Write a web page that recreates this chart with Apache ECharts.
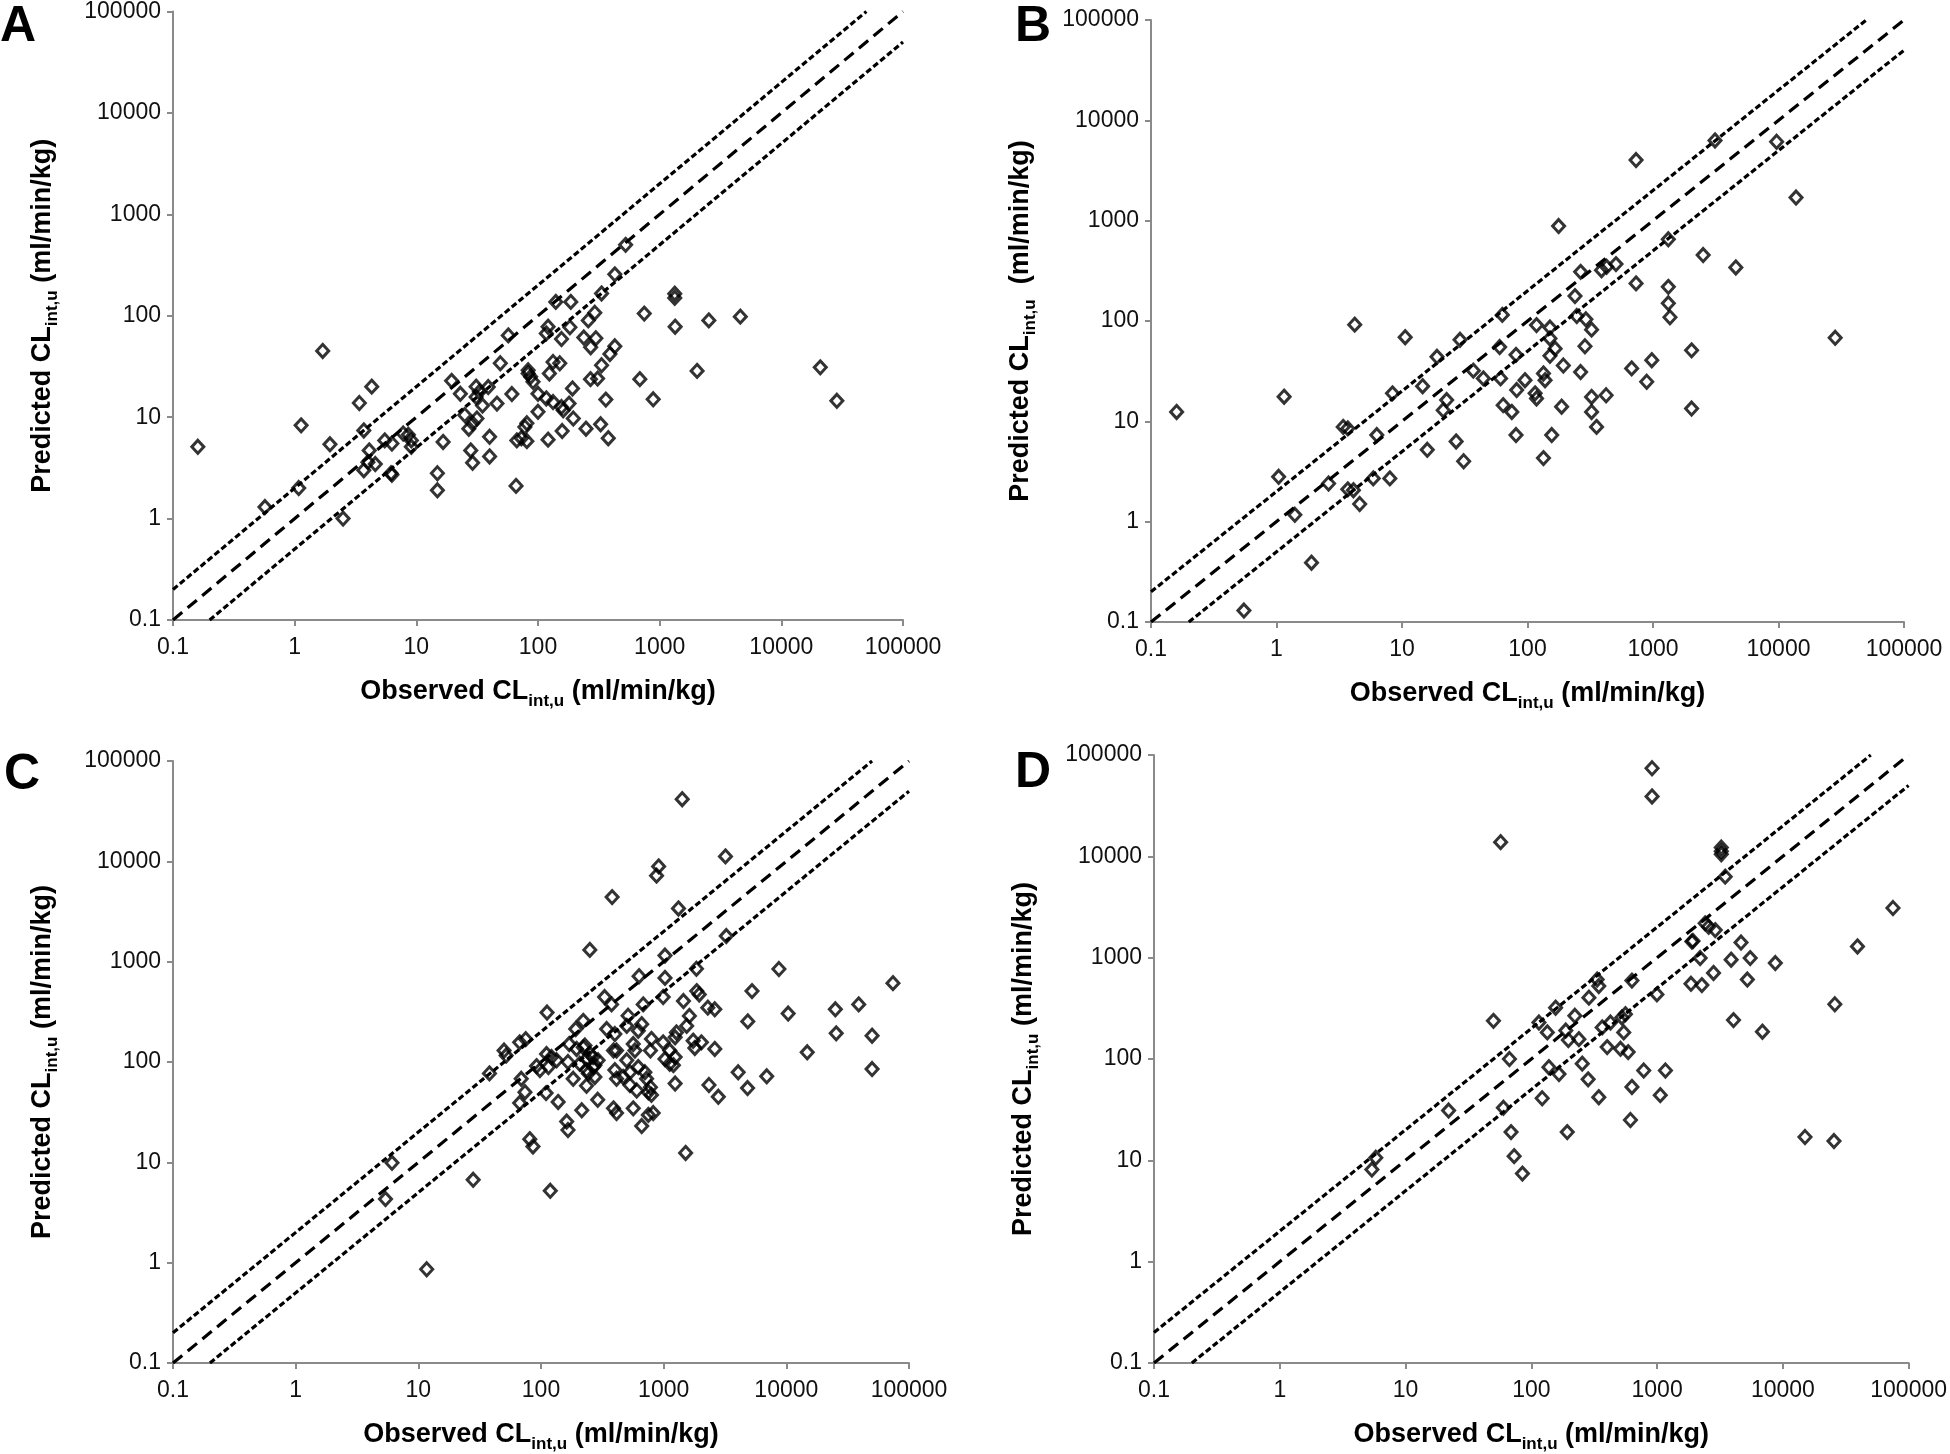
<!DOCTYPE html>
<html>
<head>
<meta charset="utf-8">
<script src="https://cdn.jsdelivr.net/npm/echarts@6/dist/echarts.min.js"></script>
<style>
  html, body { margin: 0; padding: 0; background: #fff; }
  #chart { width: 1950px; height: 1454px; }
</style>
</head>
<body>
<div id="chart"></div>
<script>
// tick labels shared by both log axes
const tickLabels = ['0.1', '1', '10', '100', '1000', '10000', '100000']
const panelNames = ['A', 'B', 'C', 'D']

// observed vs predicted CLint,u, [observed, predicted]
const panelA = [
  [0.16, 5.1], [0.57, 1.3], [1.08, 2.0], [1.13, 8.3], [1.7, 45], [1.95, 5.4], [2.5, 1.0], [3.4, 13.8],
  [3.7, 7.4], [4.3, 20], [3.7, 3.0], [4.0, 3.6], [4.1, 4.7], [4.6, 3.45], [5.5, 5.9], [6.3, 5.5],
  [6.2, 2.8], [6.3, 2.7], [7.8, 6.9], [8.6, 6.7], [9.1, 5.9], [9.1, 5.1], [14.9, 2.8], [14.9, 1.9],
  [16.6, 5.7], [19.5, 22.8], [23, 17], [25, 10.5], [27, 7.7], [28, 4.7], [29, 3.55], [31.5, 9.7],
  [29, 8.7], [31, 20], [31, 15.8], [33, 17.8], [35, 13], [39, 19.8], [40, 6.4], [40, 4.1],
  [46, 13.6], [49, 34], [61, 16.9], [57, 64], [66, 2.1], [67, 5.9], [73, 6.2], [78, 8.0],
  [81, 8.7], [81, 5.8], [83, 29], [87, 25], [91, 22.3], [83, 27], [100, 17], [100, 11.3],
  [121, 78], [117, 67], [121, 6.0], [124, 27], [117, 15.3], [140, 137], [133, 35], [151, 34],
  [156, 59], [133, 14.1], [156, 12.6], [158, 7.3], [161, 11.7], [180, 13.6], [186, 137], [183, 77],
  [192, 19.2], [195, 9.7], [238, 61], [248, 7.7], [259, 90], [270, 23.7], [271, 49], [293, 107],
  [299, 60], [309, 24], [327, 8.5], [333, 166], [333, 32.5], [361, 14.9], [378, 6.2], [390, 42],
  [428, 50], [428, 256], [525, 500], [687, 23.7], [747, 105], [885, 15], [1330, 165], [1330, 150],
  [1340, 78], [2030, 28.6], [2535, 90], [4600, 98], [20900, 31], [28600, 14.5]
]

const panelB = [
  [0.16, 12.4], [0.55, 0.13], [1.04, 2.8], [1.15, 17.6], [1.4, 1.17], [1.9, 0.39], [2.6, 2.4], [3.4, 8.8],
  [3.7, 8.5], [3.7, 2.1], [4.1, 2.06], [4.2, 92], [4.6, 1.5], [5.9, 2.7], [6.3, 7.3], [8.0, 2.7],
  [8.4, 19], [10.6, 69], [14.6, 22.4], [15.9, 5.2], [19, 44], [21.3, 12.9], [22.7, 16.3], [27, 6.3],
  [29, 65], [31, 4.0], [37, 32], [44.5, 26.8], [60, 55], [61, 26.8], [63, 115], [64, 14.5],
  [75, 12.4], [81, 46], [82, 20.5], [81, 7.3], [95.5, 25.7], [115, 19], [118, 16.9], [118, 91],
  [134, 4.3], [134, 30], [138, 25.7], [151, 86], [151, 67], [151, 45], [156, 7.3], [166, 53],
  [177, 884], [187, 14], [193, 36], [239, 177], [247, 112], [265, 309], [265, 31], [292, 104],
  [287, 56], [324, 82], [324, 17.5], [423, 18.2], [324, 12.4], [355, 8.8], [389, 321], [427, 347],
  [507, 369], [676, 33.7], [733, 4020], [733, 237], [891, 24.8], [978, 40.7], [1325, 652], [1325, 219],
  [1325, 150], [1365, 109], [2030, 51], [2030, 13.4], [2510, 454], [3120, 6300], [4570, 342], [9660, 6120],
  [13800, 1700], [28300, 68]
]

const panelC = [
  [5.4, 4.3], [6.1, 9.9], [11.7, 0.86], [28, 6.7], [38, 77], [50, 130], [52, 116], [67, 157],
  [75, 169], [67, 39], [69, 68], [74, 50], [81, 17], [86, 14.4], [92, 91], [98, 83],
  [110, 49], [111, 120], [112, 311], [115, 89], [119, 5.2], [122, 112], [134, 104], [138, 40],
  [162, 25.5], [166, 21], [166, 100], [170, 151], [183, 68], [192, 213], [195, 135], [207, 96],
  [215, 33], [221, 257], [221, 140], [228, 146], [235, 107], [235, 83], [235, 58], [243, 77],
  [250, 1310], [251, 120], [266, 112], [267, 89], [275, 93], [275, 71], [290, 42], [292, 104],
  [330, 444], [343, 213], [376, 375], [380, 4400], [390, 130], [390, 34.5], [400, 190], [400, 83],
  [413, 130], [413, 68], [413, 31], [468, 71], [500, 229], [500, 104], [513, 289], [531, 79],
  [531, 59], [565, 151], [565, 34.5], [583, 130], [603, 52], [621, 205], [621, 89], [630, 716],
  [662, 238], [662, 23], [681, 375], [703, 79], [726, 68], [750, 50], [750, 29.7], [780, 130],
  [780, 56], [795, 170], [795, 47], [822, 31], [875, 7200], [910, 8900], [990, 157], [991, 444],
  [1025, 1150], [1025, 689], [1025, 107], [1120, 130], [1120, 96], [1200, 93], [1240, 176], [1240, 112],
  [1240, 61], [1270, 197], [1320, 3390], [1416, 41600], [1450, 405], [1510, 12.4], [1540, 229], [1620, 288],
  [1740, 163], [1795, 138], [1850, 850], [1860, 509], [1950, 471], [2030, 157], [2290, 348], [2340, 59],
  [2610, 335], [2610, 135], [2790, 45], [3190, 11200], [3240, 1800], [4050, 79], [4830, 55], [4850, 254],
  [5250, 509], [6920, 72], [8700, 845], [10350, 304], [14800, 125], [25100, 335], [25500, 193], [38900, 375],
  [50000, 183], [50000, 85], [74000, 611]
]

const panelD = [
  [5.4, 8.1], [5.8, 10.6], [22, 31], [50, 238], [57, 13800], [60, 33], [67, 100], [69, 19],
  [73, 11], [85, 7.4], [115, 229], [122, 41], [134, 183], [138, 83], [156, 321], [166, 71],
  [188, 191], [193, 19], [197, 154], [222, 267], [239, 157], [254, 90], [283, 63], [287, 403],
  [334, 608], [344, 525], [344, 42], [366, 205], [401, 131], [426, 229], [512, 126], [525, 257],
  [543, 183], [560, 277], [589, 117], [614, 25], [631, 594], [631, 53], [783, 77], [912, 74000],
  [912, 39000], [997, 434], [1060, 44], [1165, 77], [1860, 552], [1890, 1440], [1930, 1460], [2200, 991],
  [2270, 536], [2410, 2180], [2570, 2020], [2810, 707], [2900, 1870], [3240, 12200], [3240, 11200], [3240, 10500],
  [3480, 6300], [3880, 955], [4050, 242], [4650, 1410], [5220, 608], [5500, 990], [6880, 186], [8710, 885],
  [15000, 17], [25500, 15.5], [25900, 347], [39200, 1290], [75100, 3090]
]

// reference lines: 2-fold over, line of unity, 2-fold under
const lineOver = [[0.1, 0.2], [50000, 100000]]
const lineUnity = [[0.1, 0.1], [100000, 100000]]
const lineUnder = [[0.2, 0.1], [100000, 50000]]

const grids = [
  { left: 173, top: 11, width: 730, height: 609 },
  { left: 1151, top: 20, width: 753, height: 602 },
  { left: 173, top: 761, width: 736, height: 608 },
  { left: 1154, top: 755, width: 757, height: 614 }
]
const letterPos = [[0, 2], [1015, 2], [4, 750], [1015, 748]]
const yNames = [
  '{b|Predicted CL}{s|int,u}{b| (ml/min/kg)}',
  '{b|Predicted CL}{s|int,u}{b|  (ml/min/kg)}',
  '{b|Predicted CL}{s|int,u}{b| (ml/min/kg)}',
  '{b|Predicted CL}{s|int,u}{b| (ml/min/kg)}'
]
const xName = '{b|Observed CL}{s|int,u}{b| (ml/min/kg)}'

const font = 'Liberation Sans'
const nameRich = {
  b: { fontFamily: font, fontWeight: 'bold', fontSize: 27, color: '#000', lineHeight: 36, verticalAlign: 'middle' },
  s: { fontFamily: font, fontWeight: 'bold', fontSize: 17, color: '#000', lineHeight: 36, verticalAlign: 'bottom', padding: [11, 0, 0, 0] }
}

function logAxis(gridIndex, name, nameGap, rotate) {
  return {
    type: 'log',
    logBase: 10,
    gridIndex,
    min: 0.1,
    max: 100000,
    interval: 1,
    name,
    nameLocation: 'middle',
    nameGap,
    nameRotate: rotate,
    nameTextStyle: { rich: nameRich },
    axisLine: { show: true, lineStyle: { color: '#8a8a8a', width: 2 } },
    axisTick: { show: true, inside: false, length: 6, lineStyle: { color: '#8a8a8a', width: 2 } },
    minorTick: { show: false },
    splitLine: { show: false },
    axisLabel: {
      fontFamily: font,
      fontSize: 23,
      color: '#111',
      margin: rotate ? 12 : 16,
      formatter: (v) => tickLabels[Math.round(Math.log10(v)) + 1]
    }
  }
}

const panels = [panelA, panelB, panelC, panelD]
const xAxis = []
const yAxis = []
const series = []
panels.forEach((pts, i) => {
  xAxis.push(logAxis(i, xName, 54, 0))
  yAxis.push(logAxis(i, yNames[i], 112, 90))
  const dash = (data, type) => ({
    type: 'line',
    xAxisIndex: i,
    yAxisIndex: i,
    data,
    symbol: 'none',
    silent: true,
    z: 1,
    lineStyle: { color: '#000', width: 3.2, type }
  })
  series.push(dash(lineOver, [6, 3]))
  series.push(dash(lineUnity, [12, 7]))
  series.push(dash(lineUnder, [6, 3]))
  series.push({
    type: 'scatter',
    xAxisIndex: i,
    yAxisIndex: i,
    data: pts,
    symbol: 'diamond',
    symbolSize: [12, 13],
    z: 3,
    itemStyle: { color: 'rgba(255,255,255,0)', borderColor: '#000', borderWidth: 3 }
  })
})

const option = {
  animation: false,
  backgroundColor: '#fff',
  title: panelNames.map((t, i) => ({
    text: t,
    left: letterPos[i][0],
    top: letterPos[i][1],
    padding: 0,
    textStyle: { fontFamily: font, fontWeight: 'bold', fontSize: 50, color: '#000' }
  })),
  grid: grids,
  xAxis,
  yAxis,
  series
}

const myChart = echarts.init(document.getElementById('chart'))
myChart.setOption(option)
</script>
</body>
</html>
